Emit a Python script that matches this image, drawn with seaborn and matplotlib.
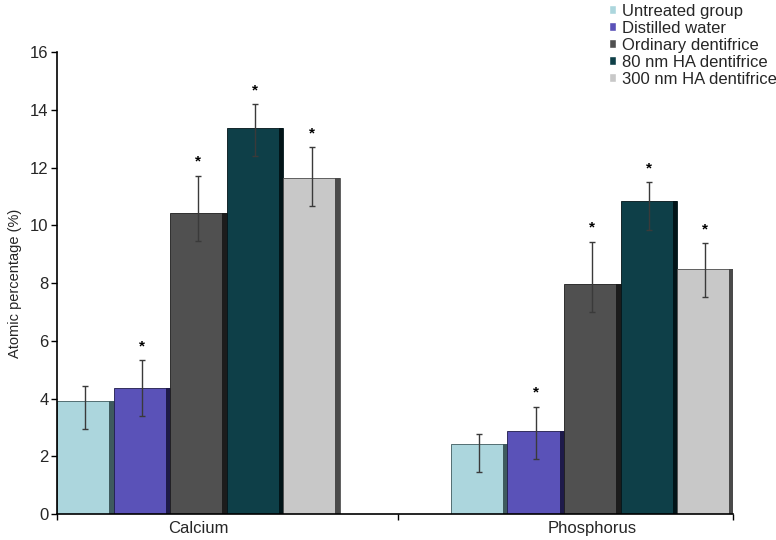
import matplotlib
matplotlib.use("Agg")
import matplotlib.pyplot as plt
import seaborn as sns
import pandas as pd
import numpy as np
from matplotlib.patches import Rectangle
from matplotlib.ticker import FixedLocator

elements = ["Calcium", "Phosphorus"]
groups = ["Untreated group", "Distilled water", "Ordinary dentifrice",
          "80 nm HA dentifrice", "300 nm HA dentifrice"]
calcium = [3.93, 4.37, 10.42, 13.38, 11.65]
phosphorus = [2.42, 2.87, 7.97, 10.84, 8.50]
calcium_err_up = [0.51, 0.96, 1.29, 0.82, 1.05]
calcium_err_low = [0.98, 0.98, 0.98, 0.99, 0.98]
phosphorus_err_up = [0.37, 0.85, 1.46, 0.65, 0.88]
phosphorus_err_low = [0.98, 0.98, 0.99, 1.00, 1.00]
significant = [False, True, True, True, True]
colors = ["#acd6dd", "#5a52b8", "#505050", "#0e3f48", "#c8c8c8"]
shade = ["#3e5a5e", "#1e1a4a", "#1c1c1c", "#021418", "#4a4a4a"]

rows = []
for g, c, p in zip(groups, calcium, phosphorus):
    rows.append({"Element": "Calcium", "Group": g, "Value": c})
    rows.append({"Element": "Phosphorus", "Group": g, "Value": p})
df = pd.DataFrame(rows)

sns.set_style("white")
plt.rcParams["font.family"] = ["Liberation Sans", "DejaVu Sans"]

fig = plt.figure(figsize=(7.76, 5.40), dpi=100)
ax = fig.add_axes([0.0735, 0.048, 0.871, 0.8557])

sns.barplot(data=df, x="Element", y="Value", hue="Group", order=elements,
            hue_order=groups, palette=colors, width=0.718, errorbar=None,
            saturation=1, ax=ax, legend=True)

errs_up = {"Calcium": calcium_err_up, "Phosphorus": phosphorus_err_up}
errs_low = {"Calcium": calcium_err_low, "Phosphorus": phosphorus_err_low}

bar_containers = list(ax.containers)
for gi, cont in enumerate(bar_containers):
    for ei, bar in enumerate(cont):
        x0 = bar.get_x()
        w = bar.get_width()
        h = bar.get_height()
        bar.set_edgecolor(shade[gi])
        bar.set_linewidth(0.6)
        # dark right-side shading
        ax.add_patch(Rectangle((x0 + w * 0.92, 0), w * 0.08, h,
                               facecolor=shade[gi], edgecolor="none", zorder=bar.get_zorder() + 0.1))
        el = elements[ei]
        up = errs_up[el][gi]
        lo = errs_low[el][gi]
        xc = x0 + w / 2
        ax.errorbar(xc, h, yerr=[[lo], [up]], fmt="none", ecolor="#3a3a3a",
                    elinewidth=1.0, capsize=2, capthick=1.0, zorder=5)
        if significant[gi]:
            ax.annotate("*", (xc, h + up), xytext=(0, 5), textcoords="offset points",
                        ha="center", va="bottom", fontsize=11, fontweight="bold", color="black")

ax.set_ylim(0, 16)
ax.set_xlim(-0.359, 1.357)
ax.set_yticks(np.arange(0, 17, 2))
ax.tick_params(axis="y", which="major", direction="out", length=4, width=1,
               color="black", labelsize=12, pad=2, left=True)
ax.tick_params(axis="x", which="major", length=0, labelsize=12, pad=5)
ax.xaxis.set_minor_locator(FixedLocator([-0.359, 0.506, 1.357]))
ax.tick_params(axis="x", which="minor", direction="out", length=4, width=1,
               color="black", bottom=True)
ax.set_xlabel("")
ax.set_ylabel("Atomic percentage (%)", fontsize=10.5, labelpad=6)
for s in ["top", "right"]:
    ax.spines[s].set_visible(False)
for s in ["left", "bottom"]:
    ax.spines[s].set_color("black")
    ax.spines[s].set_linewidth(1.2)

handles, labels = ax.get_legend_handles_labels()
ax.legend(handles, labels, loc="upper left", bbox_to_anchor=(0.772, 1.012),
          bbox_transform=fig.transFigure, frameon=False, fontsize=12,
          handlelength=0.4, handleheight=0.4, handletextpad=0.4,
          labelspacing=0.12, borderpad=0.1)

fig.savefig("out.png", dpi=100)
